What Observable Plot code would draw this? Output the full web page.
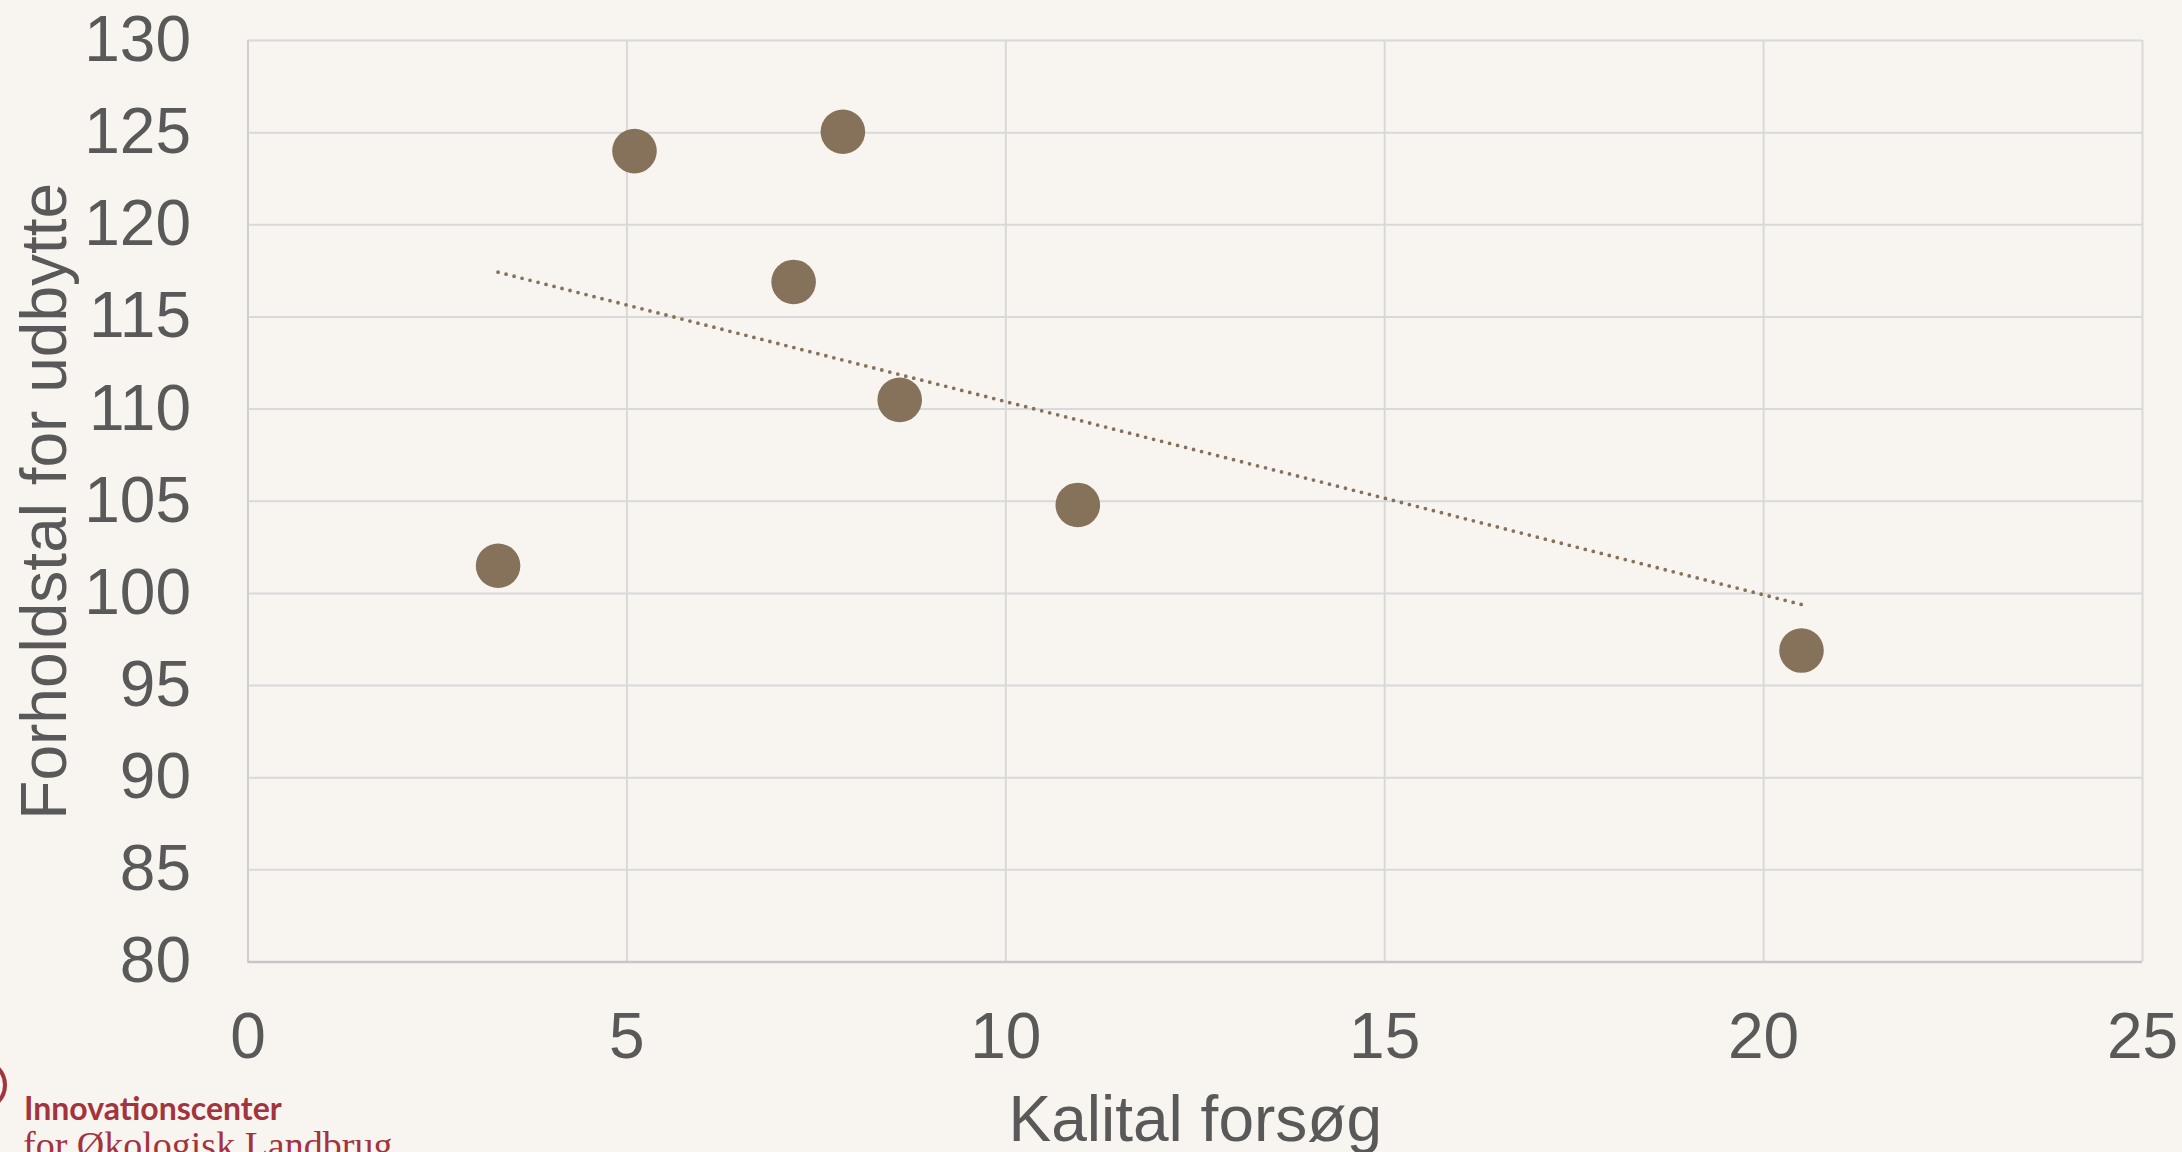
<!DOCTYPE html>
<html>
<head>
<meta charset="utf-8">
<script src="https://cdn.jsdelivr.net/npm/d3@7"></script>
<script src="https://cdn.jsdelivr.net/npm/@observablehq/plot@0.6"></script>
<style>
  html, body { margin: 0; padding: 0; background: #f8f5f0; overflow: hidden; }
  #wrap { position: relative; width: 2182px; height: 1152px; }
  .logo1 { position: absolute; left: 24px; top: 1088px; font-family: Lato, "Open Sans", sans-serif; font-weight: 700; font-size: 32px; color: #a3333d; white-space: nowrap; line-height: 40px; }
  .logo2 { position: absolute; left: 23px; top: 1123px; font-family: "Liberation Serif", "DejaVu Serif", serif; font-size: 38px; color: #a3333d; white-space: nowrap; line-height: 44px; }
  .ring { position: absolute; left: 0; top: 1040px; }
</style>
</head>
<body>
<div id="wrap"></div>
<script>
// Data
const kalital = [3.3, 5.1, 7.2, 7.85, 8.6, 10.95, 20.5];
const forholdstal = [101.5, 124.0, 116.9, 125.05, 110.5, 104.8, 96.9];
const xTicks = [0, 5, 10, 15, 20, 25];
const yTicks = [80, 85, 90, 95, 100, 105, 110, 115, 120, 125, 130];
const xTitle = "Kalital forsøg";
const yTitle = "Forholdstal for udbytte";

const data = kalital.map((k, i) => ({x: k, y: forholdstal[i]}));
const brown = "#86725a";
const grid = "#d9d9d9";

const chart = Plot.plot({
  width: 2182,
  height: 1152,
  marginLeft: 247.5,
  marginRight: 40,
  marginTop: 40,
  marginBottom: 190.5,
  style: {background: "#f8f5f0", fontFamily: "'Liberation Sans', Arial, sans-serif", fontSize: "64px", color: "#595959", overflow: "visible"},
  x: {domain: [0, 25]},
  y: {domain: [80, 130]},
  marks: [
    Plot.gridX(xTicks, {stroke: grid, strokeOpacity: 1, strokeWidth: 2}),
    Plot.gridY(yTicks, {stroke: grid, strokeOpacity: 1, strokeWidth: 2}),
    Plot.ruleX([0], {stroke: "#cfcfcf", strokeWidth: 2}),
    Plot.ruleY([80], {stroke: "#c6c6c6", strokeWidth: 2.5}),
    Plot.axisX({ticks: xTicks, tickSize: 0, tickPadding: 51, fontSize: 64, label: null, fill: "#595959"}),
    Plot.axisY({ticks: yTicks, tickSize: 0, tickPadding: 57, fontSize: 64, label: null, fill: "#595959"}),
    Plot.linearRegressionY(data, {x: "x", y: "y", ci: 0, stroke: brown, strokeWidth: 3.8, strokeDasharray: "0,8.25", strokeLinecap: "round"}),
    Plot.dot(data, {x: "x", y: "y", r: 22.3, fill: brown, stroke: "none"}),
    Plot.text([xTitle], {text: d => d, frameAnchor: "bottom", lineAnchor: "bottom", textAnchor: "middle", dy: 178.5, fontSize: 64, fill: "#595959"}),
    Plot.text([yTitle], {text: d => d, frameAnchor: "left", lineAnchor: "bottom", textAnchor: "middle", rotate: -90, dx: -182.5, fontSize: 64, fill: "#595959"})
  ]
});

const wrap = document.getElementById("wrap");
wrap.appendChild(chart);

const ring = document.createElementNS("http://www.w3.org/2000/svg", "svg");
ring.setAttribute("class", "ring");
ring.setAttribute("width", "40");
ring.setAttribute("height", "90");
ring.innerHTML = '<circle cx="-19" cy="45" r="24" fill="none" stroke="#a3333d" stroke-width="4"/>';
wrap.appendChild(ring);

const l1 = document.createElement("div");
l1.className = "logo1";
l1.textContent = "Innovationscenter";
wrap.appendChild(l1);
const l2 = document.createElement("div");
l2.className = "logo2";
l2.textContent = "for Økologisk Landbrug";
wrap.appendChild(l2);
</script>
</body>
</html>
